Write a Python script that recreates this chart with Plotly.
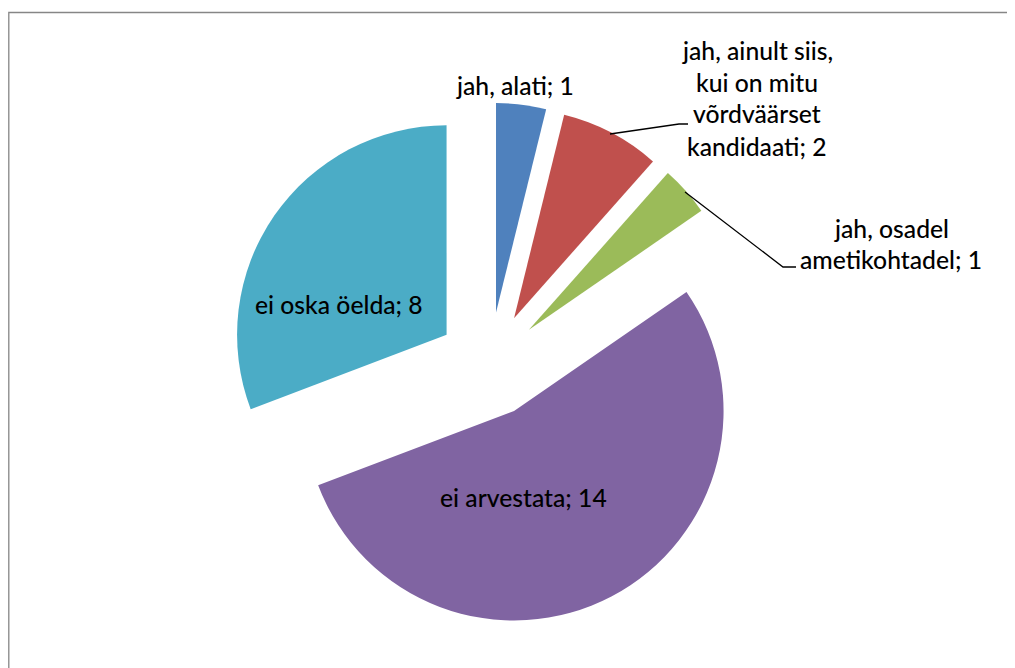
import plotly.graph_objects as go

# ---- data ----
labels = [
    "jah, alati",
    "jah, ainult siis,|kui on mitu|võrdväärset|kandidaati",
    "jah, osadel|ametikohtadel",
    "ei arvestata",
    "ei oska öelda",
]
values = [1, 2, 1, 14, 8]
colors = ["#4F81BD", "#C0504D", "#9BBB59", "#8064A2", "#4BACC6"]

W, H = 1015, 668
OFF = 8  # page body margin in the screenshot

# label anchor positions (screen pixel centres of the first line) and line spacing
label_pos = [(515, 85), (757, 49), (891, 227), (523, 496), (339, 304)]
line_gap = 32

# leader lines (screen pixel polylines)
leaders = [
    None,
    [(610, 134), (679, 124), (688, 124)],
    [(685, 192), (783, 267), (796, 267)],
    None,
    None,
]

def px(x):
    return (x - OFF) / W

def py(y):
    return 1 - (y - OFF) / H

cx, cy, half = 489.7, 364.6, 261.9
fig = go.Figure(
    go.Pie(
        labels=[l.replace("|", " ") for l in labels],
        values=values,
        sort=False,
        direction="clockwise",
        rotation=0,
        pull=[0.25] * len(values),
        marker=dict(colors=colors, line=dict(width=0)),
        textinfo="none",
        hoverinfo="label+value",
        showlegend=False,
        domain=dict(x=[px(cx - 300), px(cx + 300)], y=[py(cy + half), py(cy - half)]),
    )
)

annotations = []
for lab, val, (x0, y0) in zip(labels, values, label_pos):
    lines = (lab + "; " + str(val)).split("|")
    for i, ln in enumerate(lines):
        annotations.append(
            dict(
                x=px(x0), y=py(y0 + i * line_gap + 1), xref="paper", yref="paper",
                text=ln, showarrow=False, xanchor="center", yanchor="middle",
                font=dict(family="Lato, Carlito, Calibri, sans-serif", size=24.7,
                          weight=500, color="#000000"),
            )
        )

shapes = [
    dict(type="rect", xref="paper", yref="paper",
         x0=0.8 / W, y0=py(12.5), x1=1.05, y1=-0.05,
         line=dict(color="#868686", width=1.3), fillcolor="rgba(0,0,0,0)"),
]
for pts in leaders:
    if pts:
        path = "M " + " L ".join(f"{px(a)},{py(b)}" for a, b in pts)
        shapes.append(dict(type="path", xref="paper", yref="paper", path=path,
                           line=dict(color="#000000", width=1.3)))

fig.update_layout(
    width=W, height=H,
    margin=dict(l=0, r=0, t=0, b=0),
    paper_bgcolor="#FFFFFF",
    plot_bgcolor="#FFFFFF",
    annotations=annotations,
    shapes=shapes,
)

fig.write_html("out.html")
